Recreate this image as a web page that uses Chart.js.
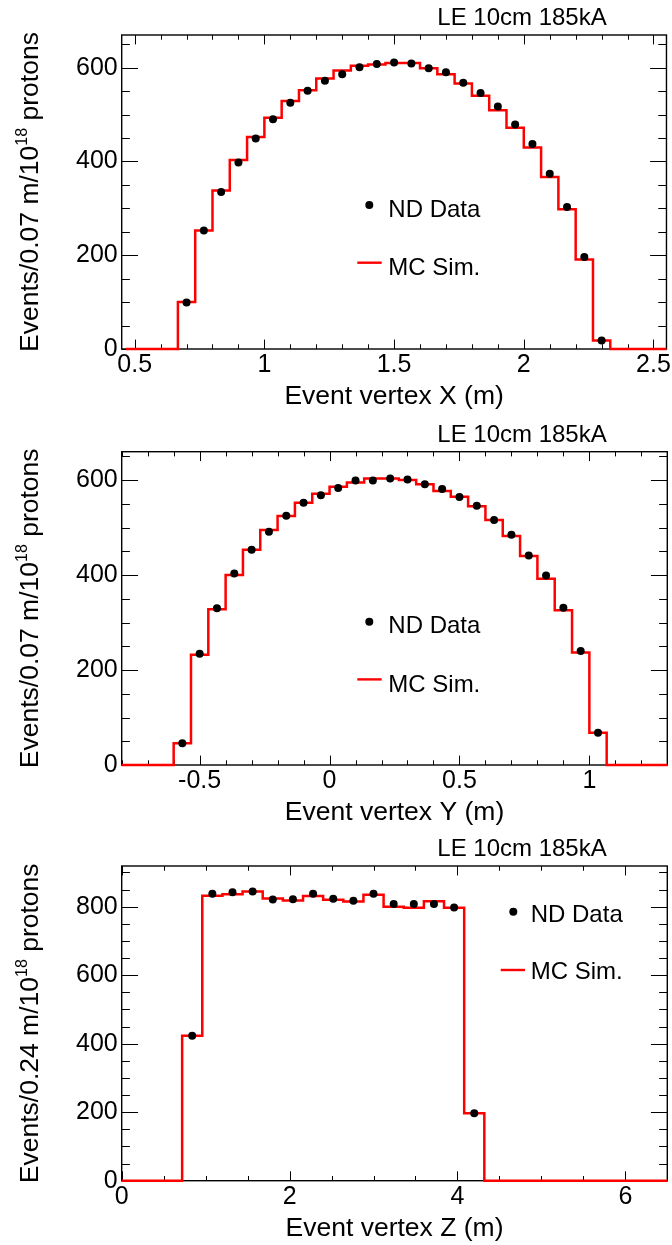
<!DOCTYPE html>
<html>
<head>
<meta charset="utf-8">
<script src="https://cdn.jsdelivr.net/npm/chart.js@4.4.0/dist/chart.umd.min.js"></script>
<style>
html,body{margin:0;padding:0;background:#fff;}
#wrap{position:relative;width:672px;height:1245px;overflow:hidden;}
canvas{position:absolute;left:0;}
</style>
</head>
<body>
<div id="wrap">
<canvas id="c1" width="672" height="415" style="top:0px"></canvas>
<canvas id="c2" width="672" height="415" style="top:415px"></canvas>
<canvas id="c3" width="672" height="415" style="top:830px"></canvas>
</div>
<script>
// ---------------- DATA ----------------
const panelTitle = "LE 10cm 185kA";
const legendLabels = ["ND Data", "MC Sim."];

// Panel 1: Event vertex X
const xTitleX = "Event vertex X (m)";
const yTitleX = ["Events/0.07 m/10", "18", " protons"];
const histLowX = 7 / 15;          // first histogram bin edge (m)
const binWidthX = 1 / 15;         // bin width (m)
const mcX = [0, 0, 0, 100, 253, 338, 403, 452, 493, 529, 552, 577, 594, 604, 607, 610, 610, 599, 586, 566, 540, 509, 472, 430, 367, 298, 191, 18];
const dataFirstBinX = 3;
const dataX = [99, 253, 335, 398, 449, 490, 525, 551, 572, 586, 601, 608, 611, 609, 599, 590, 568, 546, 517, 479, 437, 374, 303, 196, 18];
const xRangeX = [0.45, 2.55];
const yRangeX = [0, 669.7];

// Panel 2: Event vertex Y
const xTitleY = "Event vertex Y (m)";
const yTitleY = ["Events/0.07 m/10", "18", " protons"];
const histLowY = -0.8;
const binWidthY = 1 / 15;
const mcY = [0, 0, 0, 46, 232, 328, 400, 453, 495, 524, 552, 571, 586, 595, 603, 603, 600, 591, 577, 565, 545, 516, 482, 440, 392, 326, 237, 68];
const dataFirstBinY = 3;
const dataY = [46, 234, 330, 403, 453, 491, 525, 552, 568, 583, 599, 599, 603, 601, 591, 581, 564, 546, 516, 485, 441, 399, 331, 240, 68];
const xRangeY = [-0.8, 1.3];
const yRangeY = [0, 659.6];

// Panel 3: Event vertex Z
const xTitleZ = "Event vertex Z (m)";
const yTitleZ = ["Events/0.24 m/10", "18", " protons"];
const histLowZ = 0;
const binWidthZ = 0.24;
const mcZ = [0, 0, 0, 423, 832, 836, 844, 824, 818, 831, 820, 815, 835, 800, 797, 816, 797, 197];
const dataFirstBinZ = 3;
const dataZ = [423, 838, 842, 844, 821, 822, 838, 823, 817, 838, 808, 808, 808, 798, 197];
const xRangeZ = [0, 6.5];
const yRangeZ = [0, 918.8];

// ---------------- HELPERS ----------------
const FONT = "'Liberation Sans', Arial, Helvetica, sans-serif";

function mcPoints(low, w, counts, xmax) {
  const pts = counts.map((c, i) => ({x: low + i * w, y: c}));
  pts.push({x: low + counts.length * w, y: 0});
  pts.push({x: xmax, y: 0});
  return pts;
}
function dataPoints(low, w, first, vals) {
  return vals.map((v, i) => ({x: low + (first + i + 0.5) * w, y: v}));
}
function fmt(v) { return String(Math.round(v * 1000) / 1000); }

const rootStyle = {
  id: 'rootStyle',
  beforeDatasetsDraw(chart, args, o) {
    const {ctx, chartArea: a, scales: {x, y}} = chart;
    ctx.save();
    ctx.strokeStyle = '#000';
    ctx.lineWidth = 1;
    const W = a.right - a.left, H = a.bottom - a.top;
    const yMajL = 0.03 * W, xMajL = 0.03 * H;
    ctx.beginPath();
    const xs = Math.ceil((x.min - 1e-9) / o.xMinor) * o.xMinor;
    for (let v = xs; v <= x.max + 1e-9; v += o.xMinor) {
      const r = Math.round(v / o.xMajor);
      const isMaj = Math.abs(v - r * o.xMajor) < 1e-6;
      const len = isMaj ? xMajL : xMajL / 2;
      const px = Math.round(x.getPixelForValue(v)) + 0.5;
      ctx.moveTo(px, a.bottom); ctx.lineTo(px, a.bottom - len);
      ctx.moveTo(px, a.top); ctx.lineTo(px, a.top + len);
    }
    const ys = Math.ceil((y.min - 1e-9) / o.yMinor) * o.yMinor;
    for (let v = ys; v <= y.max + 1e-9; v += o.yMinor) {
      const isMaj = Math.abs(v / o.yMajor - Math.round(v / o.yMajor)) < 1e-6;
      const len = isMaj ? yMajL : yMajL / 2;
      const py = Math.round(y.getPixelForValue(v)) + 0.5;
      ctx.moveTo(a.left, py); ctx.lineTo(a.left + len, py);
      ctx.moveTo(a.right, py); ctx.lineTo(a.right - len, py);
    }
    ctx.stroke();
    ctx.lineWidth = 1.4;
    ctx.strokeRect(a.left, a.top, W, H);
    ctx.restore();
  },
  afterDraw(chart, args, o) {
    const {ctx, chartArea: a} = chart;
    ctx.save();
    ctx.fillStyle = '#000';
    ctx.textBaseline = 'alphabetic';
    ctx.font = `24px ${FONT}`;
    ctx.textAlign = 'left';
    ctx.fillText(panelTitle, 437.3, a.top - 10);
    ctx.font = `26.5px ${FONT}`;
    ctx.textAlign = 'center';
    ctx.fillText(o.xTitle, (a.left + a.right) / 2, a.bottom + 55);
    ctx.save();
    ctx.translate(37.5, (a.top + a.bottom) / 2);
    ctx.rotate(-Math.PI / 2);
    ctx.textAlign = 'left';
    const bigF = `26.5px ${FONT}`, supF = `16px ${FONT}`;
    ctx.font = bigF; const w1 = ctx.measureText(o.yTitle[0]).width;
    ctx.font = supF; const w2 = ctx.measureText(o.yTitle[1]).width;
    ctx.font = bigF; const w3 = ctx.measureText(o.yTitle[2]).width;
    let sx = -(w1 + w2 + w3) / 2;
    ctx.font = bigF; ctx.fillText(o.yTitle[0], sx, 0); sx += w1;
    ctx.font = supF; ctx.fillText(o.yTitle[1], sx, -11); sx += w2;
    ctx.font = bigF; ctx.fillText(o.yTitle[2], sx, 0);
    ctx.restore();
    const L = o.legend;
    ctx.font = `24px ${FONT}`;
    ctx.textAlign = 'left';
    ctx.beginPath();
    ctx.arc(L.dotX, a.top + L.dotY, 4, 0, Math.PI * 2);
    ctx.fill();
    ctx.fillText(legendLabels[0], L.textX, a.top + L.ndBase);
    ctx.strokeStyle = '#ff0000';
    ctx.lineWidth = 2.4;
    ctx.beginPath();
    ctx.moveTo(L.lineX1, a.top + L.lineY); ctx.lineTo(L.lineX2, a.top + L.lineY);
    ctx.stroke();
    ctx.fillText(legendLabels[1], L.textX, a.top + L.mcBase);
    ctx.restore();
  }
};

function makeChart(id, cfg) {
  const tickFont = {family: FONT, size: 25};
  return new Chart(document.getElementById(id), {
    type: 'scatter',
    data: {
      datasets: [
        {
          label: legendLabels[0],
          data: cfg.data,
          showLine: false,
          pointRadius: 4,
          pointHoverRadius: 4,
          pointBackgroundColor: '#000',
          pointBorderWidth: 0,
          borderColor: '#000'
        },
        {
          label: legendLabels[1],
          data: cfg.mc,
          showLine: true,
          stepped: 'before',
          borderColor: '#ff0000',
          borderWidth: 2.5,
          pointRadius: 0,
          pointHoverRadius: 0,
          fill: false,
          clip: 4
        }
      ]
    },
    options: {
      responsive: false,
      animation: false,
      devicePixelRatio: 1,
      layout: {padding: {left: 0, top: cfg.padTop, right: cfg.padRight, bottom: 0}},
      plugins: {
        legend: {display: false},
        tooltip: {enabled: false},
        title: {display: false},
        rootStyle: {
          xMajor: cfg.xMajor, xMinor: cfg.xMinor, yMajor: cfg.yMajor, yMinor: cfg.yMinor,
          xTitle: cfg.xTitle, yTitle: cfg.yTitle, legend: cfg.legend
        }
      },
      scales: {
        x: {
          type: 'linear',
          min: cfg.xRange[0], max: cfg.xRange[1],
          grid: {display: false, drawTicks: false},
          border: {display: false},
          ticks: {
            stepSize: cfg.xMajor, includeBounds: false, autoSkip: false, maxRotation: 0,
            font: tickFont, color: '#000', padding: 1,
            callback: (v) => fmt(v)
          },
          afterFit: (s) => { s.height = cfg.xAxisH; }
        },
        y: {
          type: 'linear',
          min: cfg.yRange[0], max: cfg.yRange[1],
          grid: {display: false, drawTicks: false},
          border: {display: false},
          ticks: {
            stepSize: cfg.yMajor, includeBounds: false, autoSkip: false,
            font: tickFont, color: '#000', padding: 4,
            callback: (v) => fmt(v)
          },
          afterFit: (s) => { s.width = 121.7; }
        }
      }
    },
    plugins: [rootStyle]
  });
}

const legendTop = {dotX: 369.3, dotY: 170, textX: 388.3, ndBase: 181.7, lineX1: 357.3, lineX2: 381.7, lineY: 227.7, mcBase: 240};
const legendZ = {dotX: 513.3, dotY: 45.7, textX: 530.7, ndBase: 55.7, lineX1: 500.7, lineX2: 525, lineY: 104, mcBase: 113.3};

makeChart('c1', {
  data: dataPoints(histLowX, binWidthX, dataFirstBinX, dataX),
  mc: mcPoints(histLowX, binWidthX, mcX, xRangeX[1]),
  xRange: xRangeX, yRange: yRangeX,
  xMajor: 0.5, xMinor: 0.1, yMajor: 200, yMinor: 50,
  padTop: 35, padRight: 5.3, xAxisH: 66,
  xTitle: xTitleX, yTitle: yTitleX, legend: legendTop
});
makeChart('c2', {
  data: dataPoints(histLowY, binWidthY, dataFirstBinY, dataY),
  mc: mcPoints(histLowY, binWidthY, mcY, xRangeY[1]),
  xRange: xRangeY, yRange: yRangeY,
  xMajor: 0.5, xMinor: 0.1, yMajor: 200, yMinor: 50,
  padTop: 36.7, padRight: 4.7, xAxisH: 65,
  xTitle: xTitleY, yTitle: yTitleY, legend: legendTop
});
makeChart('c3', {
  data: dataPoints(histLowZ, binWidthZ, dataFirstBinZ, dataZ),
  mc: mcPoints(histLowZ, binWidthZ, mcZ, xRangeZ[1]),
  xRange: xRangeZ, yRange: yRangeZ,
  xMajor: 2, xMinor: 0.5, yMajor: 200, yMinor: 50,
  padTop: 36, padRight: 4.7, xAxisH: 64.3,
  xTitle: xTitleZ, yTitle: yTitleZ, legend: legendZ
});
</script>
</body>
</html>
